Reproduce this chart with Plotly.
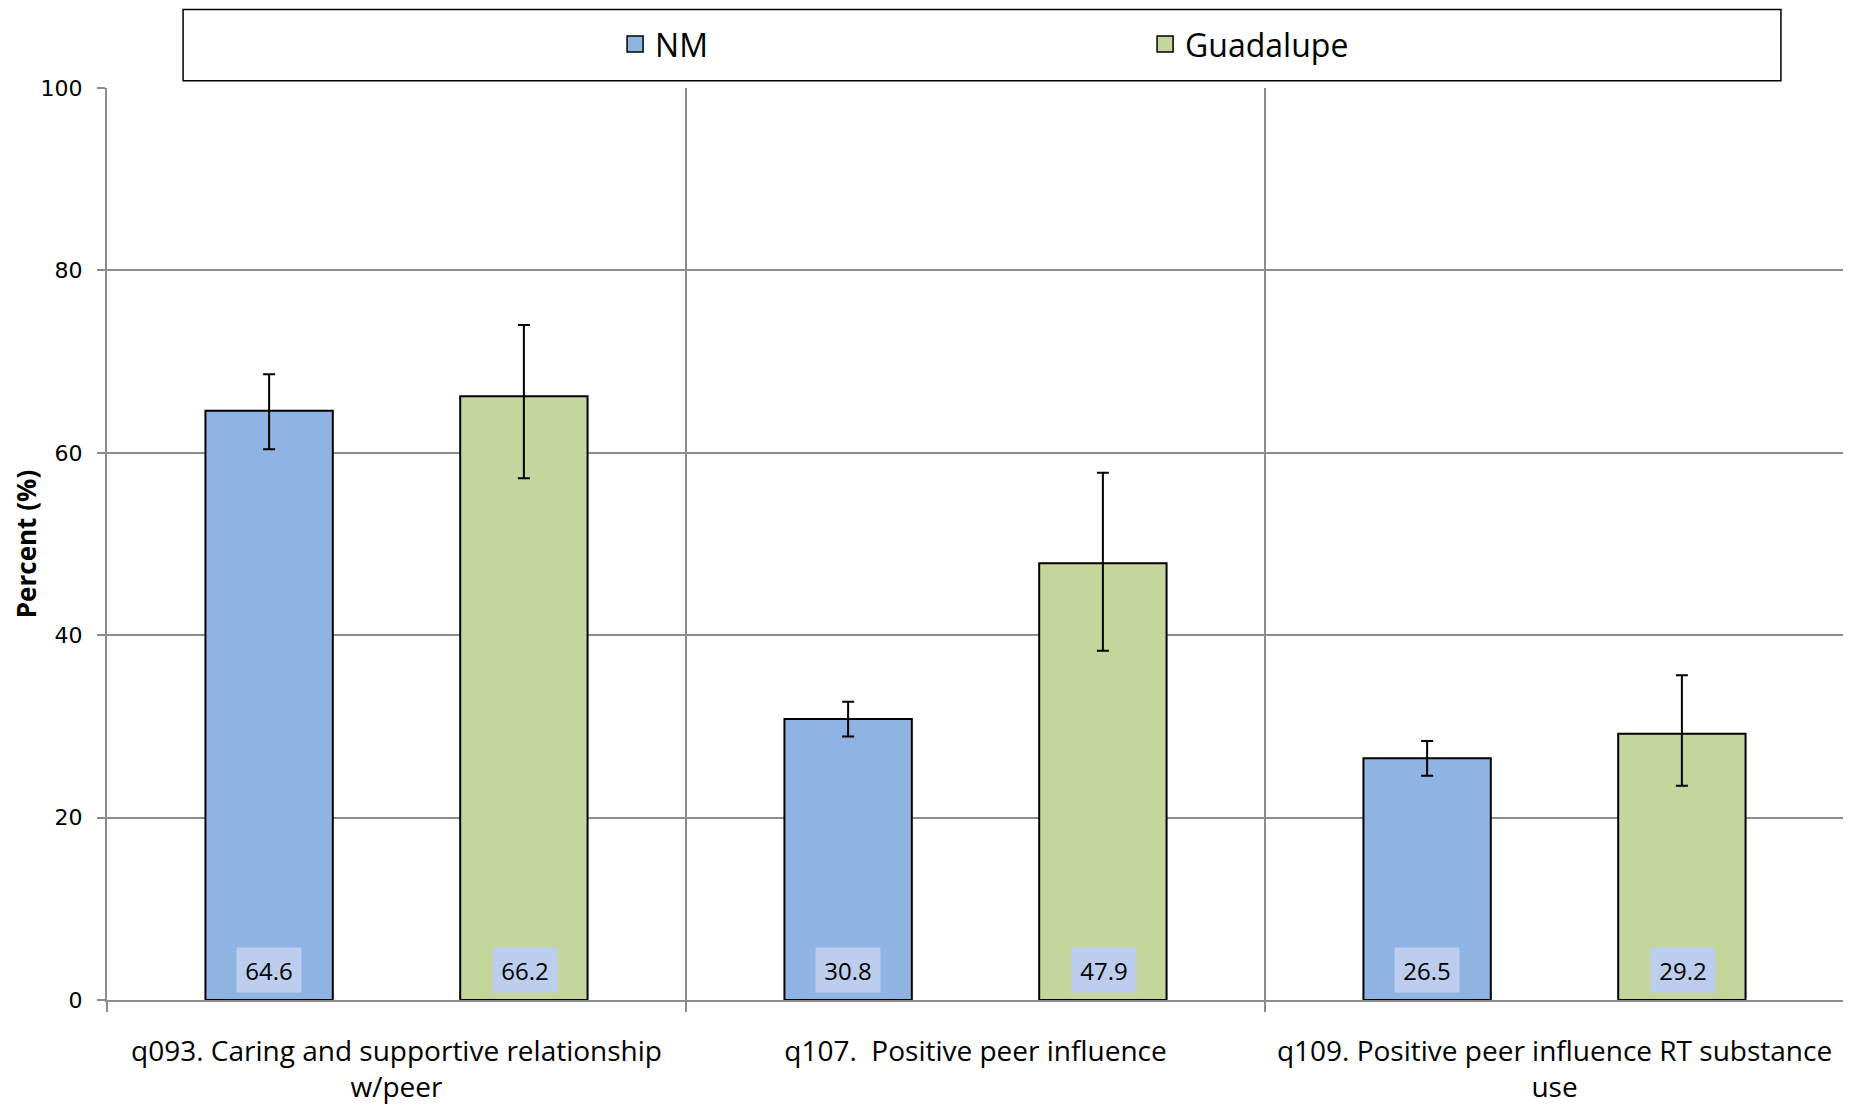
import plotly.graph_objects as go

# Data
categories = ["q093. Caring and supportive relationship<br>w/peer",
              "q107.\u00a0 Positive peer influence",
              "q109. Positive peer influence RT substance<br>use"]
nm = [64.6, 30.8, 26.5]
nm_lo = [60.4, 28.9, 24.6]
nm_hi = [68.6, 32.7, 28.4]
gu = [66.2, 47.9, 29.2]
gu_lo = [57.2, 38.3, 23.5]
gu_hi = [74.0, 57.8, 35.6]

NM_COLOR = '#8fb3e2'
GU_COLOR = '#c4d69c'
GRID = '#8c8c8c'
CAL = 'Open Sans'

fig = go.Figure()

series = [
    ('NM', nm, nm_lo, nm_hi, NM_COLOR),
    ('Guadalupe', gu, gu_lo, gu_hi, GU_COLOR),
]

for name, vals, lo, hi, color in series:
    fig.add_trace(go.Bar(
        x=categories, y=vals, name=name,
        marker=dict(color=color, line=dict(color='black', width=2)),
        error_y=dict(type='data', symmetric=False,
                     array=[h - v for h, v in zip(hi, vals)],
                     arrayminus=[v - l for v, l in zip(vals, lo)],
                     color='black', thickness=2, width=6),
        showlegend=False,
    ))
    # legend-only marker so the swatch is bigger than the default bar icon
    fig.add_trace(go.Scatter(
        x=[None], y=[None], mode='markers', name=name,
        marker=dict(symbol='square', size=18, color=color,
                    line=dict(color='black', width=1.5)),
    ))

# value labels at the base of each bar
for i, (name, vals, lo, hi, color) in enumerate(series):
    shift = -128 if i == 0 else 128
    for cat, v in zip(categories, vals):
        fig.add_annotation(
            x=cat, y=0, xref='x', yref='y', xshift=shift,
            yanchor='bottom', yshift=7,
            text=f'{v:.1f}', showarrow=False,
            width=62, height=42, bgcolor='#bccdee',
            font=dict(family=CAL, size=24, color='black'),
        )

# legend frame
fig.add_shape(type='rect', xref='paper', yref='paper',
              x0=0.0438, x1=0.9637, y0=1.008, y1=1.0862,
              line=dict(color='black', width=1.5), fillcolor='white', layer='below')

# page body has an 8px margin, so the figure is a bit smaller than the window
fig.update_layout(
    width=1843, height=1099,
    margin=dict(l=99, r=7, t=80, b=107, autoexpand=False),
    plot_bgcolor='white', paper_bgcolor='white',
    barmode='group', bargap=0.12, bargroupgap=0.5,
    legend=dict(orientation='h', x=0.2925, xanchor='left', y=1.048, yanchor='middle',
                font=dict(family=CAL, size=32, color='black'),
                entrywidth=485, bgcolor='rgba(0,0,0,0)', itemsizing='trace'),
    xaxis=dict(
        type='category', tickson='boundaries', automargin=False,
        showgrid=True, gridcolor=GRID, gridwidth=1.5,
        showline=True, linecolor=GRID, linewidth=2,
        ticks='outside', ticklen=10, tickcolor=GRID, tickwidth=1.5,
        tickfont=dict(family=CAL, size=28, color='black'),
        ticklabelstandoff=25,
    ),
    yaxis=dict(
        range=[0, 100], dtick=20, automargin=False,
        showgrid=True, gridcolor=GRID, gridwidth=1.5,
        showline=True, linecolor=GRID, linewidth=2,
        ticks='outside', ticklen=8, tickcolor=GRID, tickwidth=1.5,
        tickfont=dict(family='DejaVu Sans', size=22, color='black'),
        ticklabelstandoff=10,
        title=dict(text='<b>Percent (%)</b>', standoff=2,
                   font=dict(family=CAL, size=26, color='black')),
        zeroline=False,
    ),
)

fig.write_html("out.html")
